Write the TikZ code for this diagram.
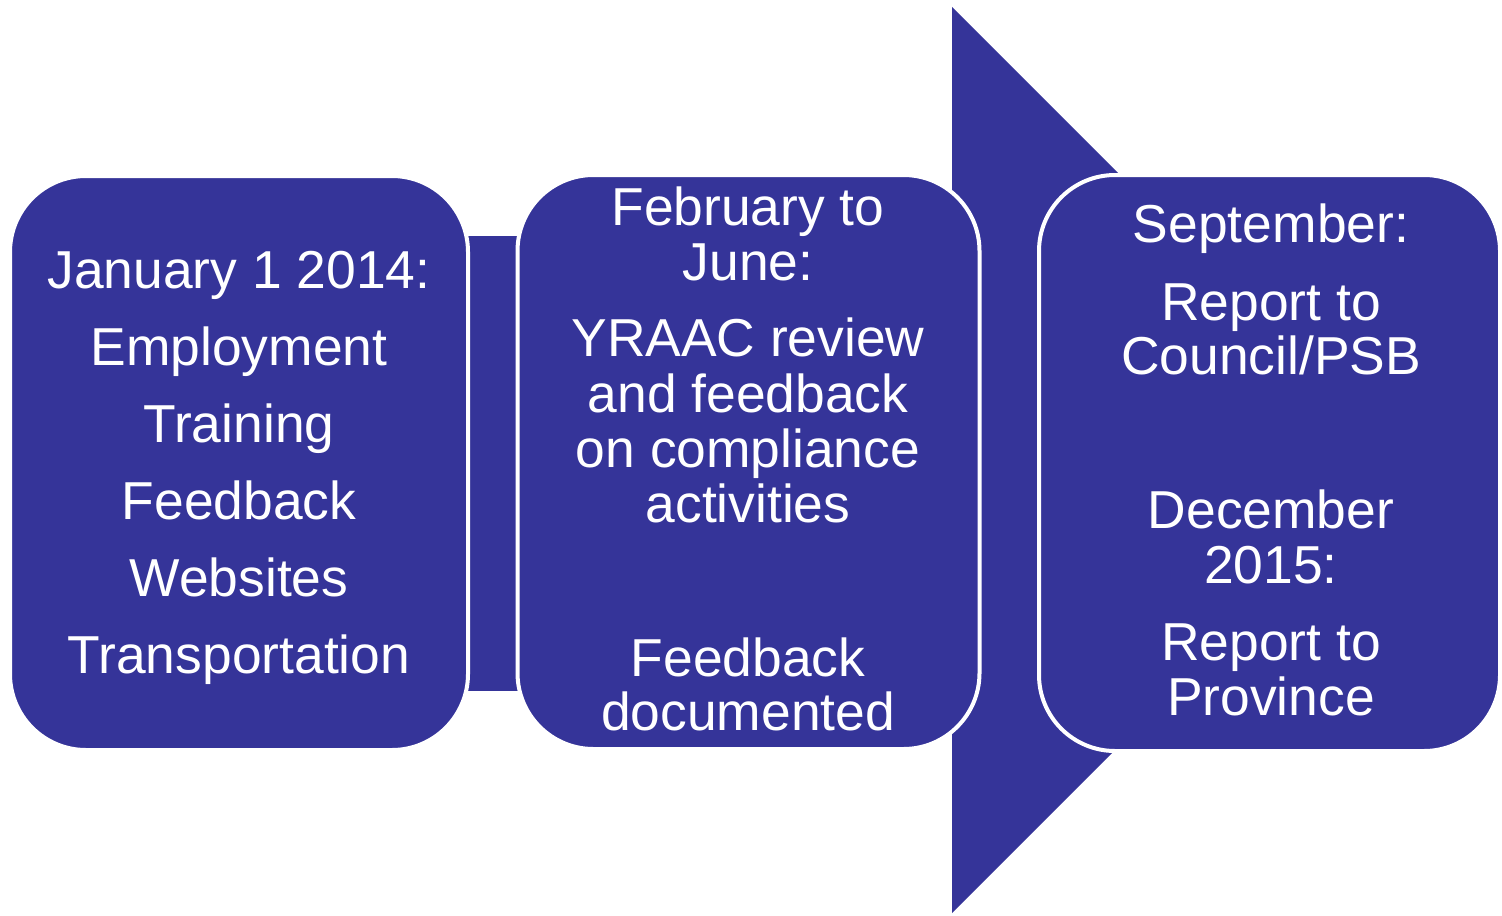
\documentclass[tikz,border=0pt]{standalone}
\usepackage{fontspec}
\setmainfont{Liberation Sans}
\definecolor{navy}{RGB}{53,52,153}
\begin{document}
\begin{tikzpicture}[x=0.5pt,y=-0.5pt,
  box/.style={draw=white, line width=2pt, fill=navy, rounded corners=38pt, inner sep=0pt},
  txt/.style={text=white, font=\fontsize{26.7pt}{30pt}\selectfont, anchor=base, inner sep=0pt}]
\useasboundingbox (0,0) rectangle (1502,915);
% big arrow behind
\fill[navy] (952,7) -- (1405,460) -- (952,913) -- cycle;
% connector bar
\fill[navy] (468,236) rectangle (518,691);
% boxes
\node[box, minimum width=229pt, minimum height=287pt] (b1) at (239,463) {};
\node[box, minimum width=231pt, minimum height=287pt] (b2) at (748.5,462) {};
\node[box, minimum width=230.5pt, minimum height=288pt] (b3) at (1269.5,463) {};
% box 1 text
\foreach \t [count=\i] in {January 1 2014:, Employment, Training, Feedback, Websites, Transportation}
  \node[txt] (a\i) at (239, {288+77*(\i-1)}) {\t};
% box 2 text
\foreach \t/\y [count=\i] in {February to/225, June:/280, YRAAC review/356, and feedback/412, on compliance/467, activities/522, Feedback/676, documented/730}
  \node[txt] (m\i) at (748, \y) {\t};
% box 3 text
\foreach \t/\y [count=\i] in {September:/242, Report to/320, Council\slash PSB/374, December/528, 2015:/583, Report to/660, Province/715}
  \node[txt] (r\i) at (1271, \y) {\t};
\end{tikzpicture}
\end{document}
